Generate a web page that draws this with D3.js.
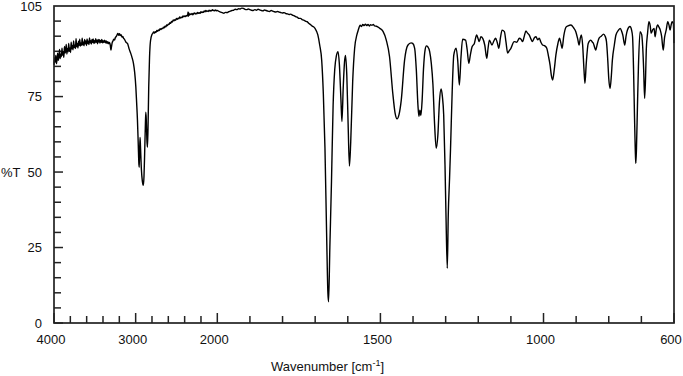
<!DOCTYPE html>
<html>
<head>
<meta charset="utf-8">
<script src="https://cdn.jsdelivr.net/npm/d3@7"></script>
<style>
  body { margin: 0; background: #fff; }
  text { font-family: "Liberation Sans", Arial, sans-serif; fill: #111; }
</style>
</head>
<body>
<svg id="chart"></svg>
<script>
// IR spectrum, %T vs wavenumber (axis compressed 2x above 2000 cm-1)

const width = 683;
const height = 376;

// [wavenumber, %T]
const noisyRegion = [
    [4000, 85.5], [3992, 87.9], [3985, 86.4], [3978, 88.6], [3970, 85.9], [3963, 87.2],
    [3955, 89.4], [3948, 87.0], [3940, 88.1], [3932, 90.6], [3925, 87.6], [3918, 89.0],
    [3910, 88.2], [3902, 91.0], [3895, 88.7], [3887, 89.9], [3880, 88.0], [3872, 91.6],
    [3864, 89.4], [3857, 90.2], [3850, 92.3], [3842, 89.1], [3835, 90.9], [3827, 89.8],
    [3820, 92.6], [3812, 90.0], [3804, 91.1], [3797, 89.6], [3790, 93.0], [3782, 90.8],
    [3775, 91.9], [3767, 90.5], [3760, 93.4], [3752, 91.2], [3745, 92.0], [3737, 90.9],
    [3730, 94.2], [3722, 91.5], [3714, 92.6], [3707, 91.1], [3700, 93.3], [3692, 91.9],
    [3685, 94.0], [3677, 91.7], [3670, 92.8], [3662, 92.0], [3655, 94.3], [3647, 92.1],
    [3640, 93.0], [3632, 91.8], [3625, 93.9], [3617, 92.5], [3610, 93.4], [3602, 91.9],
    [3595, 94.1], [3587, 92.6], [3580, 93.3], [3572, 92.2], [3565, 94.4], [3557, 92.8],
    [3550, 93.5], [3542, 92.4], [3535, 93.9], [3527, 92.9], [3520, 94.1], [3512, 92.6],
    [3505, 93.5], [3497, 92.8], [3490, 94.2], [3482, 93.0], [3475, 93.7], [3467, 92.5],
    [3460, 93.9], [3452, 93.1], [3445, 93.8], [3437, 92.7], [3430, 93.6], [3422, 93.0],
    [3415, 93.9], [3407, 92.8], [3400, 93.5], [3390, 92.9], [3380, 93.7], [3370, 92.8],
    [3360, 93.4], [3350, 92.6], [3340, 93.2], [3330, 92.5], [3320, 92.9], [3310, 91.9],
    [3303, 90.4], [3296, 91.5], [3288, 92.8], [3278, 93.4], [3268, 94.0], [3258, 93.7],
    [3248, 94.6], [3238, 94.9], [3228, 95.4], [3218, 95.9], [3208, 95.3], [3198, 95.8],
    [3188, 95.2], [3178, 95.5], [3168, 94.7], [3158, 94.9], [3148, 94.3], [3138, 94.0],
    [3128, 93.5], [3118, 93.0], [3110, 92.8]
];

const chStretch = [
    [3100, 92.6], [3080, 90.8], [3060, 89.3], [3045, 88.0], [3027, 86.0], [3012, 83.0],
    [2998, 78.3], [2988, 73.0], [2978, 67.2], [2968, 59.0], [2960, 52.5], [2956, 51.6],
    [2951, 57.5], [2946, 61.5], [2941, 58.5], [2930, 51.0], [2918, 47.0], [2906, 45.6],
    [2898, 48.5], [2890, 56.0], [2882, 64.5], [2876, 69.8], [2870, 67.5], [2863, 61.0],
    [2856, 58.2], [2849, 64.0], [2840, 78.0], [2830, 88.0], [2818, 93.5], [2800, 95.6]
];

const plateau = [
    [2790, 95.9], [2780, 96.4], [2770, 96.0], [2760, 96.5], [2750, 96.3], [2740, 96.9],
    [2730, 96.6], [2720, 97.1], [2710, 96.9], [2700, 97.5], [2690, 97.2], [2680, 97.6],
    [2670, 97.5], [2660, 98.0], [2650, 97.8], [2640, 98.3], [2630, 98.1], [2620, 98.7],
    [2610, 98.5], [2600, 99.0], [2590, 98.9], [2580, 99.5], [2570, 99.3], [2560, 99.9],
    [2550, 99.7], [2540, 100.4], [2530, 100.1], [2520, 100.5], [2510, 100.3], [2500, 100.9],
    [2490, 100.6], [2480, 101.0], [2470, 100.8], [2460, 101.4], [2450, 101.0], [2440, 101.3],
    [2430, 101.2], [2420, 101.7], [2410, 101.4], [2400, 101.7], [2390, 101.5], [2380, 101.9],
    [2370, 101.7], [2362, 102.1], [2358, 103.0], [2354, 101.6], [2350, 102.7], [2340, 102.0],
    [2330, 102.4], [2320, 102.2], [2310, 102.5], [2300, 102.1], [2290, 102.5], [2280, 102.7],
    [2270, 102.3], [2260, 102.6], [2250, 102.4], [2240, 102.9], [2230, 102.6], [2220, 102.8],
    [2210, 102.6], [2200, 103.1], [2190, 102.8], [2180, 103.0], [2170, 102.9], [2160, 103.4],
    [2150, 103.1], [2140, 103.5], [2130, 103.2], [2120, 103.4], [2110, 103.2], [2100, 103.6],
    [2090, 103.3], [2080, 103.5], [2070, 103.4], [2060, 103.8], [2050, 103.5], [2040, 103.6],
    [2030, 103.4], [2020, 103.7], [2010, 103.4], [2000, 103.5], [1995, 103.2], [1990, 103.0],
    [1985, 102.8], [1980, 102.6], [1975, 102.9], [1970, 102.8], [1965, 103.1], [1960, 103.3],
    [1955, 103.5], [1950, 103.6], [1945, 103.9], [1940, 103.8], [1935, 104.1], [1930, 104.0],
    [1925, 104.3], [1920, 104.2], [1915, 103.9], [1910, 103.8], [1905, 104.0], [1900, 103.8],
    [1895, 103.6], [1890, 103.5], [1885, 103.8], [1880, 103.6], [1875, 103.9], [1870, 103.7],
    [1865, 103.5], [1860, 103.4], [1855, 103.7], [1850, 103.5], [1845, 103.3], [1840, 103.2],
    [1835, 103.5], [1830, 103.3], [1825, 103.1], [1820, 103.0], [1815, 103.2], [1810, 103.0],
    [1805, 102.8], [1800, 102.7], [1795, 102.8], [1790, 102.5], [1785, 102.4], [1780, 102.2],
    [1775, 102.3], [1770, 102.0], [1765, 101.8], [1760, 101.5], [1755, 101.3], [1750, 100.9],
    [1745, 100.9], [1740, 100.5], [1735, 100.3], [1730, 100.0], [1725, 99.8], [1720, 99.3],
    [1715, 98.9], [1710, 98.4], [1705, 98.1], [1700, 97.5]
];

const carbonylRegion = [
    [1692, 95.5], [1686, 92.0], [1680, 87.0], [1675, 76.0], [1670, 58.0], [1665, 30.0],
    [1661, 10.0], [1659, 7.0], [1655, 25.0], [1650, 46.8], [1645, 72.0], [1640, 84.0],
    [1635, 88.5], [1630, 89.9], [1626, 86.0], [1621, 74.0], [1618, 66.7], [1614, 78.0],
    [1610, 86.5], [1607, 88.6], [1603, 82.0], [1599, 66.0], [1595, 52.0], [1591, 60.0],
    [1585, 80.0], [1579, 91.0], [1572, 95.5], [1568, 97.0], [1562, 98.6], [1558, 98.2],
    [1554, 98.9], [1550, 98.5], [1546, 99.0], [1542, 98.5], [1538, 98.9], [1534, 98.4],
    [1530, 98.8], [1526, 98.6], [1522, 98.9], [1518, 98.4], [1512, 98.3], [1502, 97.6],
    [1492, 96.6], [1482, 93.7], [1472, 88.2], [1462, 76.0], [1455, 69.5], [1449, 67.6],
    [1443, 69.0], [1436, 73.9], [1426, 87.0], [1416, 92.0], [1406, 92.8], [1401, 92.6],
    [1395, 91.0], [1390, 84.0], [1385, 72.2], [1382, 68.5], [1379, 70.5], [1376, 68.7],
    [1372, 74.0], [1368, 84.0], [1363, 90.5], [1359, 91.8], [1355, 91.5], [1349, 89.9],
    [1344, 86.0], [1339, 79.0], [1334, 66.0], [1329, 57.9], [1324, 62.0], [1319, 73.3],
    [1314, 77.5], [1310, 75.0], [1306, 68.9], [1302, 52.3], [1299, 35.8], [1295, 18.1],
    [1292, 35.8], [1288, 48.0], [1285, 57.9], [1280, 76.6], [1275, 88.8], [1268, 91.0],
    [1263, 87.0], [1258, 78.8], [1253, 88.0]
];

const fingerprint = [
    [1248, 94.0], [1239, 93.7], [1234, 90.5], [1229, 86.0], [1224, 89.0], [1219, 91.5],
    [1212, 92.6], [1205, 95.4], [1200, 94.0], [1197, 93.2], [1192, 94.8], [1186, 94.2],
    [1180, 92.0], [1174, 87.7], [1170, 91.0], [1166, 93.7], [1158, 92.1], [1152, 93.5],
    [1147, 94.3], [1142, 93.0], [1137, 91.0], [1132, 94.5], [1127, 97.0], [1120, 96.5],
    [1115, 93.0], [1110, 89.4], [1105, 90.2], [1100, 91.0], [1090, 93.2], [1082, 93.0],
    [1074, 94.3], [1069, 94.0], [1064, 93.2], [1059, 95.0], [1054, 96.7], [1049, 96.0],
    [1044, 95.4], [1039, 94.2], [1034, 93.2], [1028, 94.5], [1023, 94.8], [1018, 93.8],
    [1013, 94.3], [1008, 93.0], [1003, 92.1], [996, 91.8], [990, 91.0], [985, 88.5],
    [980, 85.5], [976, 82.0], [972, 80.5], [967, 84.0], [962, 88.8], [956, 92.5],
    [951, 94.3], [947, 92.8], [943, 91.0], [938, 95.0], [931, 98.0], [925, 98.4],
    [916, 98.7], [908, 97.8], [901, 96.5], [895, 94.0], [891, 92.1], [887, 94.5],
    [884, 95.4], [880, 92.0], [876, 84.0], [873, 79.4], [869, 86.0], [863, 92.6],
    [855, 93.7], [850, 93.0], [847, 92.6], [843, 91.2], [840, 90.4], [835, 92.5],
    [830, 94.3], [823, 95.0], [816, 95.7], [811, 95.0], [807, 93.2], [803, 87.0],
    [800, 81.0], [796, 77.7], [792, 82.0], [789, 87.0], [783, 92.0], [778, 95.4],
    [770, 97.0], [765, 97.6], [760, 96.5], [757, 95.4], [751, 92.1], [747, 95.0],
    [743, 97.0], [735, 98.2], [730, 97.0], [727, 94.8], [724, 84.0], [721, 68.0],
    [718, 55.0], [717, 52.9], [715, 58.0], [712, 72.0], [709, 85.0], [704, 96.5],
    [699, 95.5], [696, 91.5], [693, 84.0], [690, 74.4], [687, 82.0], [685, 90.4],
    [681, 96.0], [677, 99.8], [673, 98.5], [670, 96.0], [665, 97.2], [661, 97.6],
    [658, 94.8], [654, 97.5], [650, 98.7], [646, 98.0], [642, 97.0], [638, 95.0],
    [633, 90.4], [629, 94.5], [624, 97.0], [619, 99.8], [615, 98.5], [612, 97.0],
    [609, 98.6], [606, 99.8], [602, 99.2], [600, 92.7]
];

const spectrum = [].concat(noisyRegion, chStretch, plateau, carbonylRegion, fingerprint);

const xMajor = [4000, 3000, 2000, 1500, 1000, 600];
const xMinor = [3800, 3600, 3400, 3200, 2800, 2600, 2400, 2200,
                1900, 1800, 1700, 1600, 1400, 1300, 1200, 1100, 900, 800, 700];
const yMajor = [0, 25, 50, 75];
const yMinor = [5, 10, 15, 20, 30, 35, 40, 45, 55, 60, 65, 70, 80, 85, 90, 95, 100];
const yLabels = [0, 25, 50, 75, 105];

const plot = { left: 54, right: 674, top: 6, bottom: 323 };

// two-segment axis: 2000 cm-1 is the break point
const x = d3.scaleLinear()
    .domain([4000, 2000, 600])
    .range([plot.left, plot.left + (plot.right - plot.left) * 0.2634, plot.right]);

const y = d3.scaleLinear()
    .domain([0, 105])
    .range([plot.bottom, plot.top]);

const svg = d3.select("#chart")
    .attr("width", width)
    .attr("height", height);

// ticks point inward
svg.append("g").selectAll("line")
    .data(xMajor.map(v => ({ v, len: 10 })).concat(xMinor.map(v => ({ v, len: 7 }))))
    .enter().append("line")
    .attr("x1", d => x(d.v)).attr("x2", d => x(d.v))
    .attr("y1", plot.bottom).attr("y2", d => plot.bottom - d.len)
    .attr("stroke", "#222").attr("stroke-width", 1.5);

svg.append("g").selectAll("line")
    .data(yMajor.map(v => ({ v, len: 9 })).concat(yMinor.map(v => ({ v, len: 7 }))))
    .enter().append("line")
    .attr("x1", plot.left).attr("x2", d => plot.left + d.len)
    .attr("y1", d => y(d.v)).attr("y2", d => y(d.v))
    .attr("stroke", "#222").attr("stroke-width", 1.5);

svg.append("g").selectAll("text")
    .data(xMajor)
    .enter().append("text")
    .attr("x", d => x(d) - 3)
    .attr("y", 344)
    .attr("text-anchor", "middle")
    .attr("font-size", "13px")
    .text(d => d);

svg.append("g").selectAll("text")
    .data(yLabels)
    .enter().append("text")
    .attr("x", 42)
    .attr("y", d => y(d))
    .attr("dy", "0.35em")
    .attr("text-anchor", "end")
    .attr("font-size", "13px")
    .text(d => d);

svg.append("text")
    .attr("x", 1)
    .attr("y", y(50))
    .attr("dy", "0.35em")
    .attr("font-size", "13px")
    .text("%T");

const xTitle = svg.append("text")
    .attr("x", 271)
    .attr("y", 371)
    .attr("font-size", "13px");
xTitle.append("tspan").text("Wavenumber [cm");
xTitle.append("tspan").attr("font-size", "9px").attr("dy", -5).text("-1");
xTitle.append("tspan").attr("dy", 5).text("]");

const line = d3.line()
    .x(d => x(d[0]))
    .y(d => y(d[1]))
    .curve(d3.curveMonotoneX);

svg.append("path")
    .datum(spectrum)
    .attr("fill", "none")
    .attr("stroke", "#000")
    .attr("stroke-width", 1.4)
    .attr("stroke-linejoin", "round")
    .attr("d", line);

svg.append("rect")
    .attr("x", plot.left).attr("y", plot.top)
    .attr("width", plot.right - plot.left)
    .attr("height", plot.bottom - plot.top)
    .attr("fill", "none")
    .attr("stroke", "#222")
    .attr("stroke-width", 1.7);
</script>
</body>
</html>
